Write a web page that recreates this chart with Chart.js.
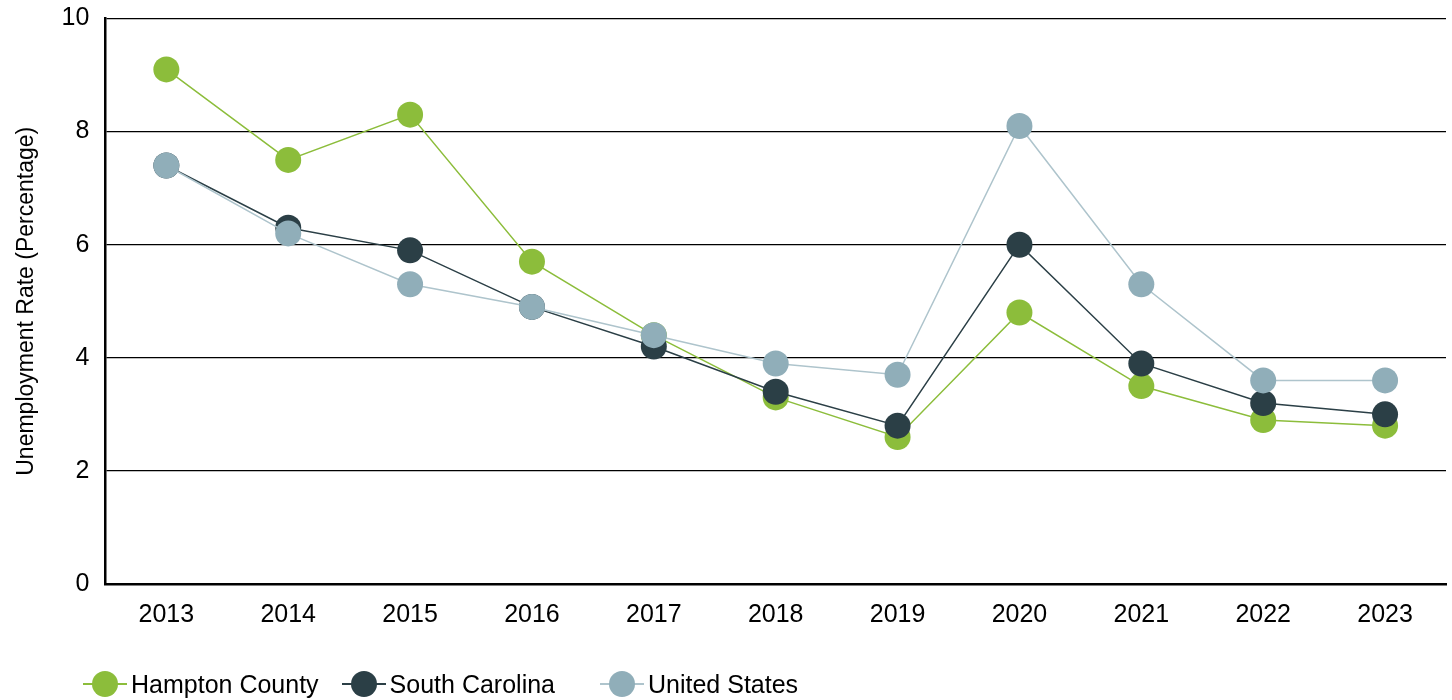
<!DOCTYPE html>
<html>
<head>
<meta charset="utf-8">
<script src="https://cdn.jsdelivr.net/npm/chart.js@4"></script>
<style>
  html, body { margin: 0; padding: 0; background: #fff; }
  #wrap { position: relative; width: 1452px; height: 700px; }
  #legend {
    position: absolute; left: 83px; top: 669px; height: 30px;
    display: flex; align-items: center;
    font-family: "Liberation Sans", Arial, sans-serif; font-size: 25px; color: #000;
  }
  .item { display: flex; align-items: center; margin-right: 23px; }
  .item:nth-child(2) { margin-right: 45px; }
  .mark { position: relative; width: 44px; height: 26px; margin-right: 4px; }
  .mark .ln { position: absolute; left: 0; right: 0; top: 12px; height: 2px; }
  .mark .dot { position: absolute; left: 9px; top: 0; width: 26px; height: 26px; border-radius: 50%; }
</style>
</head>
<body>
<div id="wrap">
  <canvas id="unemployment-chart" width="1452" height="700"></canvas>
  <div id="legend"></div>
</div>
<script>
const years = ['2013', '2014', '2015', '2016', '2017', '2018', '2019', '2020', '2021', '2022', '2023'];
const hamptonCounty = [9.1, 7.5, 8.3, 5.7, 4.4, 3.3, 2.6, 4.8, 3.5, 2.9, 2.8];
const southCarolina = [7.4, 6.3, 5.9, 4.9, 4.2, 3.4, 2.8, 6.0, 3.9, 3.2, 3.0];
const unitedStates = [7.4, 6.2, 5.3, 4.9, 4.4, 3.9, 3.7, 8.1, 5.3, 3.6, 3.6];
const seriesNames = ['Hampton County', 'South Carolina', 'United States'];
const yTicks = [0, 2, 4, 6, 8, 10];

const pointColors = ['#8cbd3b', '#2b3f46', '#90aeb9'];
const lineColors = ['#8cbd3b', '#2b3f46', '#aec4cc'];

const font = 'Liberation Sans';

function makeDataset(i, values) {
    return {
        label: seriesNames[i],
        data: values,
        borderColor: lineColors[i],
        backgroundColor: pointColors[i],
        pointBackgroundColor: pointColors[i],
        pointBorderWidth: 0,
        pointRadius: 13,
        pointHoverRadius: 13,
        borderWidth: 1.5,
        tension: 0,
        // later series sit on top, like the original
        order: 2 - i
    };
}

const ctx = document.getElementById('unemployment-chart').getContext('2d');

const chart = new Chart(ctx, {
    type: 'line',
    data: {
        labels: years,
        datasets: [
            makeDataset(0, hamptonCounty),
            makeDataset(1, southCarolina),
            makeDataset(2, unitedStates)
        ]
    },
    options: {
        responsive: false,
        animation: false,
        layout: {
            // big points would otherwise add padding on every side
            autoPadding: false,
            padding: { left: 13, right: 6, top: 0, bottom: 54 }
        },
        scales: {
            x: {
                offset: true,
                grid: {
                    drawTicks: false,
                    // only the right edge of the plot gets a line
                    color: c => c.index === years.length ? '#555' : 'rgba(0,0,0,0)',
                    lineWidth: 2
                },
                border: { display: true, color: '#000', width: 2.5 },
                ticks: {
                    color: '#000',
                    padding: 16,
                    font: { family: font, size: 25 }
                }
            },
            y: {
                min: 0,
                max: 10,
                afterBuildTicks: axis => {
                    axis.ticks = yTicks.map(v => ({ value: v }));
                },
                grid: { color: '#000', lineWidth: 1.3, drawTicks: false },
                border: { display: true, color: '#000', width: 2.5 },
                ticks: {
                    color: '#000',
                    padding: 16,
                    font: { family: font, size: 25, lineHeight: 0.2 }
                },
                title: {
                    display: true,
                    text: 'Unemployment Rate (Percentage)',
                    color: '#000',
                    padding: { top: 0, bottom: 5 },
                    font: { family: font, size: 23 }
                }
            }
        },
        plugins: {
            legend: { display: false },
            tooltip: { enabled: false }
        }
    }
});

// html legend below the chart
const legend = document.getElementById('legend');
chart.data.datasets.forEach((ds, i) => {
    const item = document.createElement('div');
    item.className = 'item';
    item.innerHTML =
        '<span class="mark"><span class="ln" style="background:' + lineColors[i] + '"></span>' +
        '<span class="dot" style="background:' + pointColors[i] + '"></span></span>' +
        '<span>' + ds.label + '</span>';
    legend.appendChild(item);
});
</script>
</body>
</html>
